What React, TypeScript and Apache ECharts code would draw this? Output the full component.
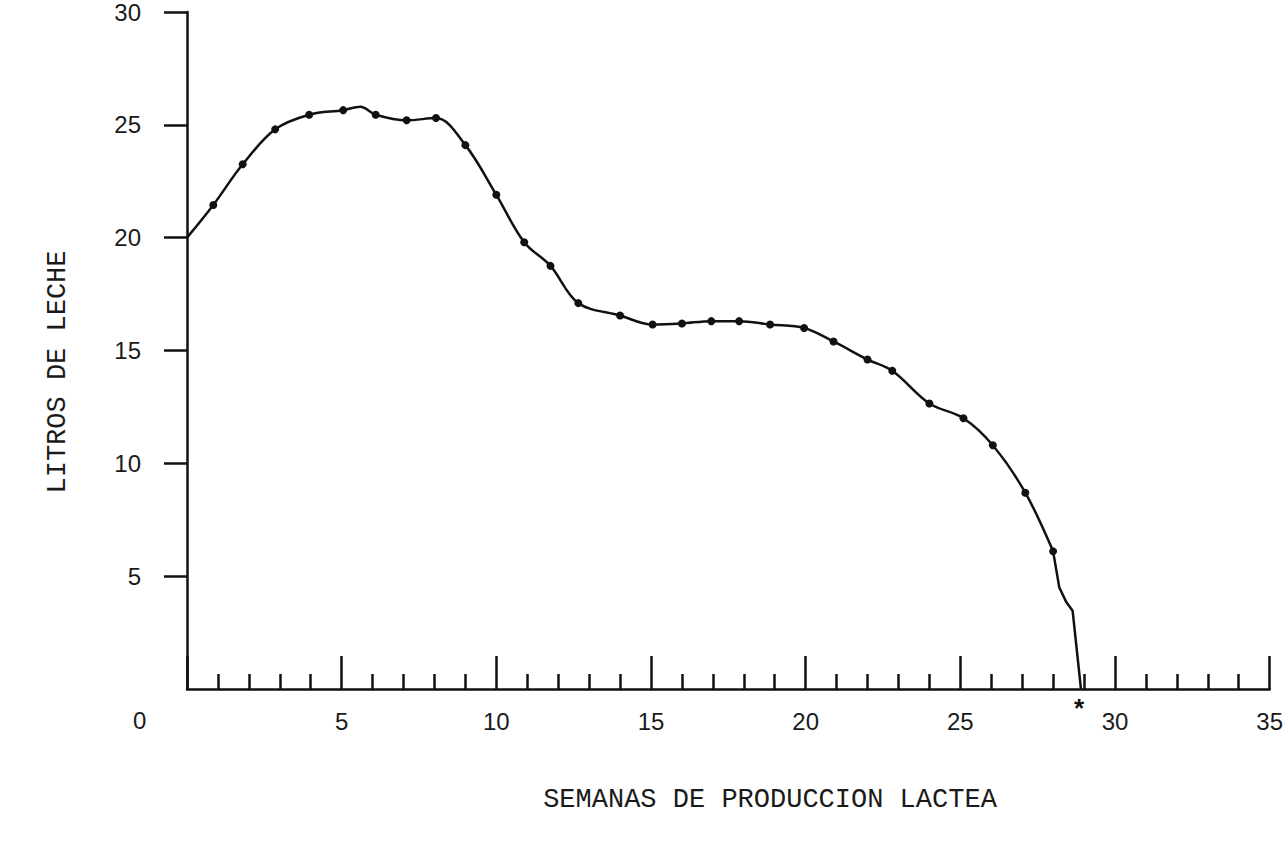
import React, { useEffect, useRef } from "react";
import * as echarts from "echarts";

// Weeks of milk production (x) and litres of milk (y)
const weeks = [0, 0.85, 1.8, 2.85, 3.95, 5.05, 5.6, 6.1, 7.1, 8.05, 9.0, 10.0, 10.9, 11.75, 12.65, 14.0, 15.05, 16.0, 16.95, 17.85, 18.85, 19.95, 20.9, 22.0, 22.8, 24.0, 25.1, 26.05, 27.1, 28.0];
const litres = [20.0, 21.45, 23.25, 24.8, 25.45, 25.65, 25.8, 25.45, 25.2, 25.3, 24.1, 21.9, 19.8, 18.75, 17.1, 16.55, 16.15, 16.2, 16.3, 16.3, 16.15, 16.0, 15.4, 14.6, 14.1, 12.65, 12.0, 10.8, 8.7, 6.1];
// whether a measured dot is drawn at the point
const marked = [false, true, true, true, true, true, false, true, true, true, true, true, true, true, true, true, true, true, true, true, true, true, true, true, true, true, true, true, true, true];
// final drop of the curve to zero (drawn straight)
const tailWeeks = [28.0, 28.2, 28.43, 28.63, 28.9];
const tailLitres = [6.1, 4.5, 3.84, 3.47, 0];

const yTicks = [5, 10, 15, 20, 25, 30];
const xTitle = "SEMANAS DE PRODUCCION LACTEA";
const yTitle = "LITROS DE LECHE";

export default function App() {
  const ref = useRef<HTMLDivElement>(null);
  useEffect(() => {
    if (!ref.current) return;
    const chart = echarts.init(ref.current, null, { renderer: "svg" });
    const ink = "#111";
    const numFont = { fontFamily: "Liberation Sans", fontSize: 24, color: "#1a1a1a" };
    chart.setOption({
      animation: false,
      backgroundColor: "#fff",
      grid: { left: 187, right: 16, top: 7, bottom: 153 },
      xAxis: {
        type: "value",
        min: 0,
        max: 35,
        interval: 5,
        axisLine: { show: true, lineStyle: { color: ink, width: 2.5 } },
        axisTick: { show: true, inside: true, length: 33, lineStyle: { color: ink, width: 2.5 } },
        minorTick: { show: true, splitNumber: 5, length: 15, lineStyle: { color: ink, width: 2.5 } },
        splitLine: { show: false },
        minorSplitLine: { show: false },
        axisLabel: {
          ...numFont,
          margin: 20,
          formatter: (v: number) => (v === 0 ? "" : String(v)),
        },
      },
      yAxis: {
        type: "value",
        min: 0,
        max: 30,
        interval: 5,
        axisLine: { show: true, lineStyle: { color: ink, width: 2.5 } },
        axisTick: { show: true, inside: false, length: 23, customValues: yTicks, lineStyle: { color: ink, width: 2.5 } },
        splitLine: { show: false },
        axisLabel: {
          ...numFont,
          margin: 46,
          customValues: yTicks,
          formatter: (v: number) => (v === 0 ? "" : String(v)),
        },
      },
      graphic: [
        {
          type: "text",
          left: 133,
          top: 708,
          style: { text: "0", font: "24px 'Liberation Sans'", fill: "#1a1a1a" },
        },
        {
          type: "text",
          x: 770,
          y: 800,
          style: {
            text: xTitle,
            font: "27px 'Liberation Mono'",
            fill: "#1a1a1a",
            align: "center",
            verticalAlign: "middle",
          },
        },
        {
          type: "text",
          x: 58,
          y: 372,
          rotation: Math.PI / 2,
          style: {
            text: yTitle,
            font: "27px 'Liberation Mono'",
            fill: "#1a1a1a",
            align: "center",
            verticalAlign: "middle",
          },
        },
        {
          type: "text",
          x: 1079,
          y: 708,
          style: {
            text: "*",
            font: "bold 26px 'Liberation Sans'",
            fill: "#111",
            align: "center",
            verticalAlign: "middle",
          },
        },
      ],
      series: [
        {
          type: "line",
          smooth: 0.35,
          symbolSize: 8,
          itemStyle: { color: ink },
          lineStyle: { color: ink, width: 2.5 },
          data: weeks.map((w, i) => ({
            value: [w, litres[i]],
            symbol: marked[i] ? "circle" : "none",
          })),
          z: 3,
        },
        {
          type: "line",
          smooth: false,
          symbol: "none",
          lineStyle: { color: ink, width: 2.5 },
          data: tailWeeks.map((w, i) => [w, tailLitres[i]]),
          z: 2,
        },
      ],
    });
    return () => chart.dispose();
  }, []);
  return (
    <div
      ref={ref}
      style={{ position: "absolute", left: 0, top: 0, width: 1286, height: 842 }}
    />
  );
}
